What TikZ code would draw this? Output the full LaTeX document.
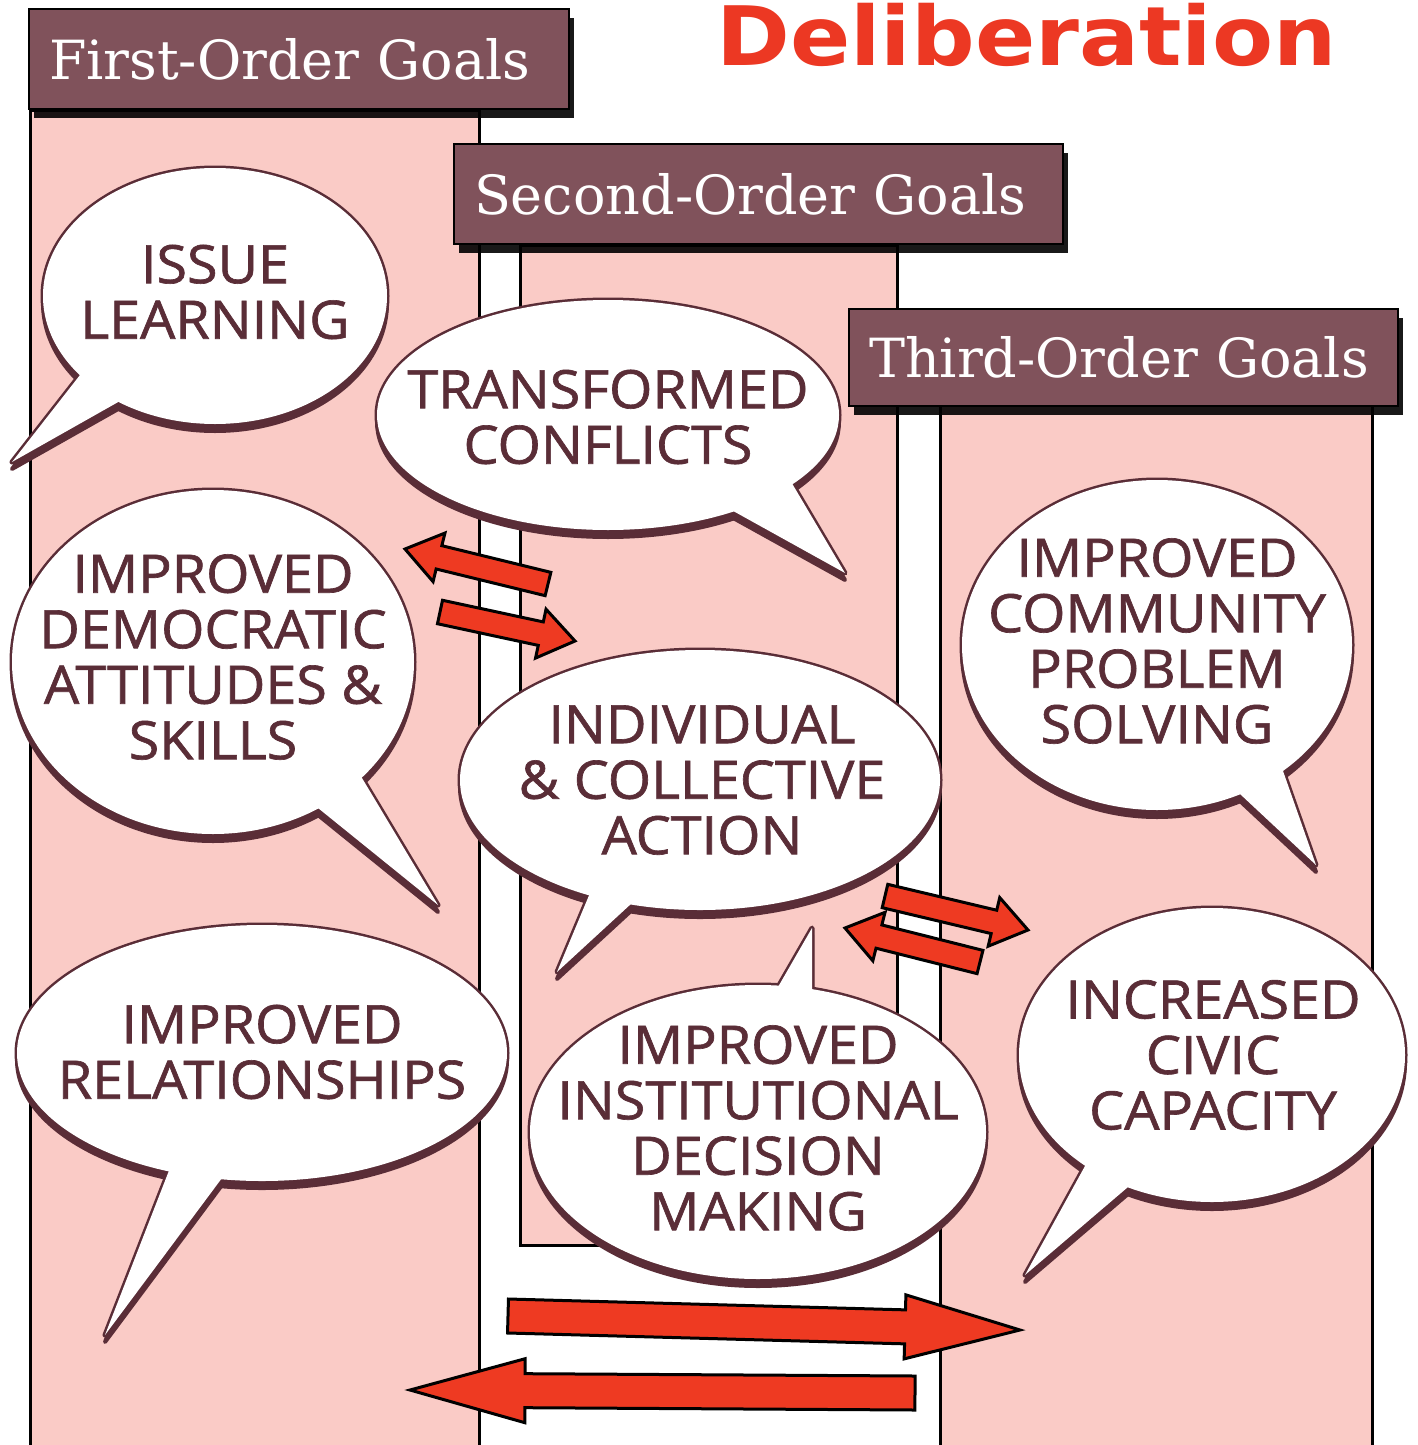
\documentclass[tikz,border=0pt]{standalone}
\usepackage{fontspec}
\usetikzlibrary{calc,shadows}
\newfontfamily\titlefont{DejaVu Serif}
\newfontfamily\bubfont{Open Sans}[FakeBold=1.2]
\newfontfamily\delfont{DejaVu Sans}
\definecolor{pinkfill}{RGB}{250,203,198}
\definecolor{mauve}{RGB}{128,82,91}
\definecolor{bubdark}{RGB}{90,45,55}
\definecolor{arrred}{RGB}{238,58,34}
\definecolor{delred}{RGB}{236,56,35}
\tikzset{
  colbox/.style={fill=pinkfill, draw=black, line width=3},
  titlebox/.style={fill=mauve, draw=black, line width=2, anchor=north west,
    inner xsep=20, inner ysep=0, text=white, align=left, minimum height=100,
    font=\titlefont\fontsize{54}{60}\selectfont,
    drop shadow={shadow xshift=5pt, shadow yshift=-9pt, opacity=.9, fill=black}},
  bubtext/.style={text=bubdark, align=center, inner sep=0, xscale=1.05,
    font=\bubfont\fontsize{53}{55.5}\selectfont},
  redarrow/.style={fill=arrred, draw=black, line width=3, line join=miter},
  bubshadow/.style={fill=bubdark, draw=bubdark, line width=4, line join=round},
  bubline/.style={draw=bubdark, line width=5, line join=round},
}
% #1 cx, #2 cy, #3 rx, #4 ry, #5 base1, #6 tip, #7 base2
\newcommand\speechbubble[7]{%
  \begin{scope}[shift={(0,7)}]
    \path[bubshadow] (#1,#2) ellipse [x radius=#3, y radius=#4];
    \path[bubshadow] ($(#6)!1.5!(#5)$) -- (#6) -- ($(#6)!1.5!(#7)$) -- cycle;
  \end{scope}
  \path[bubline] (#1,#2) ellipse [x radius=#3, y radius=#4];
  \path[bubline] ($(#6)!1.5!(#5)$) -- (#6) -- ($(#6)!1.5!(#7)$) -- cycle;
  \path[fill=white] (#1,#2) ellipse [x radius=#3, y radius=#4];
  \path[fill=white] ($(#6)!1.5!(#5)$) -- (#6) -- ($(#6)!1.5!(#7)$) -- cycle;
}
% #1,#2 tail; #3,#4 tip; #5 shaft half; #6 head half; #7 head length
\newcommand\fatarrow[7]{%
  \pgfmathsetmacro\arrAng{atan2(-(#4-#2),#3-#1)}%
  \pgfmathsetmacro\arrLen{100*veclen((#3-#1)/100,(#4-#2)/100)}%
  \pgfmathsetmacro\arrBase{\arrLen-#7}%
  \begin{scope}[shift={(#1,#2)},rotate=\arrAng]
    \path[redarrow] (0,#5) -- (\arrBase,#5) -- (\arrBase,#6) -- (\arrLen,0)
      -- (\arrBase,-#6) -- (\arrBase,-#5) -- (0,-#5) -- cycle;
  \end{scope}}
\begin{document}
\begin{tikzpicture}[x=1pt,y=-1pt]
\useasboundingbox (0,0) rectangle (1418,1445);
\fill[white] (0,0) rectangle (1418,1445);
\begin{scope}
\clip (0,0) rectangle (1418,1445);

% columns
\path[fill=pinkfill] (30,110) rectangle (479,1460);
\draw[line width=3] (30,1460) -- (30,110) -- (479,110) -- (479,1460);
\path[colbox] (520,245) rectangle (897,1245);
\path[fill=pinkfill] (940,405) rectangle (1372,1460);
\draw[line width=3] (940,1460) -- (940,405) -- (1372,405) -- (1372,1460);

% titles
\node[titlebox, text width=500] (t1) at (28,8) {\mbox{First-Order Goals}};
\node[titlebox, text width=569] (t2) at (453,143) {\mbox{Second-Order Goals}};
\node[titlebox, text width=509, minimum height=97] (t3) at (848,308) {\mbox{Third-Order Goals}};

\node[anchor=base west, inner sep=0, text=delred, xscale=1.085,
  font=\delfont\bfseries\fontsize{82}{90}\selectfont] (del) at (716,66) {Deliberation};

% bubbles
\speechbubble{215}{296}{172}{128}{80,375}{12,462}{120,401}
\node[bubtext] (b1) at (215,292) {ISSUE\\LEARNING};

\speechbubble{608}{415}{231}{115}{790,480}{845,573}{735,512}
\node[bubtext] (b2) at (608,417) {TRANSFORMED\\CONFLICTS};

\speechbubble{213}{662}{201}{172}{362,778}{438,905}{318,808}
\node[bubtext] (b3) at (213,657) {IMPROVED\\DEMOCRATIC\\ATTITUDES \&\\SKILLS};

\speechbubble{1157}{645}{195}{165}{1240,794}{1316,865}{1283,771}
\node[bubtext] (b7) at (1157,641) {IMPROVED\\COMMUNITY\\PROBLEM\\SOLVING};

\speechbubble{700}{780}{240}{130}{590,893}{557,972}{632,903}
\node[bubtext] (b4) at (702,780) {INDIVIDUAL\\\& COLLECTIVE\\ACTION};

\speechbubble{262}{1053}{245}{128}{170,1168}{105,1335}{222,1178}
\node[bubtext] (b5) at (262,1052) {IMPROVED\\RELATIONSHIPS};

\speechbubble{758}{1132}{228}{147}{778,987}{812,928}{812,989}
\node[bubtext] (b6) at (758,1128) {IMPROVED\\INSTITUTIONAL\\DECISION\\MAKING};

\speechbubble{1212}{1055}{193}{147}{1128,1187}{1025,1275}{1085,1166}
\node[bubtext] (b8) at (1213,1055) {INCREASED\\CIVIC\\CAPACITY};

% arrows
\fatarrow{548}{584}{405}{549}{12}{25}{35}
\fatarrow{440}{612}{575}{641}{12}{25}{35}
\fatarrow{885}{896}{1028}{930}{12}{25}{35}
\fatarrow{980}{962}{845}{928}{12}{25}{35}
\fatarrow{508}{1316}{1020}{1330}{17}{32}{115}
\fatarrow{915}{1393}{410}{1390}{17}{32}{115}
\end{scope}
\end{tikzpicture}
\end{document}
